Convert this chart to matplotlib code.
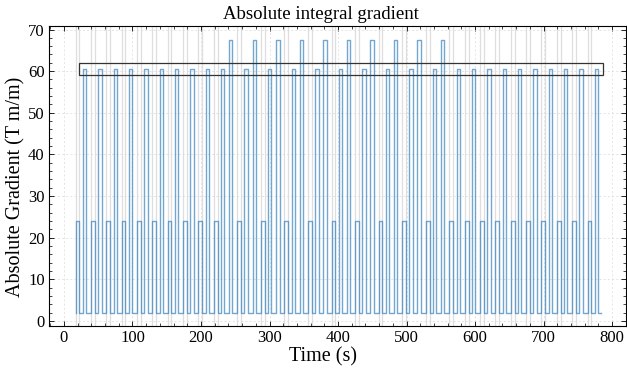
import matplotlib
matplotlib.use("Agg")
import matplotlib.pyplot as plt
from matplotlib.ticker import MultipleLocator
from matplotlib.patches import Rectangle

# ---- data ----
baseline = 2.0
low_level = 24.0
high_level = 60.5
peak_level = 67.4

# onset times (s) of the 24 T m/m pulses
low_on = [17.0, 39.4, 61.8, 84.2, 106.6, 129.0, 151.4, 173.8, 196.2,
          218.6, 253.0, 287.4, 321.8, 356.2, 390.6, 425.0, 459.4, 493.8, 528.2,
          562.6, 585.0, 607.4, 629.8, 652.2, 674.6, 697.0, 719.4, 741.8, 764.2]
low_dur = 5.5
# onset times (s) of the ~60 T m/m pulses
high_on = [27.5, 49.9, 72.3, 94.7, 117.1, 139.5, 161.9, 184.3, 206.7,
           229.1, 263.5, 297.9, 332.3, 366.7, 401.1, 435.5, 469.9, 504.3, 538.7,
           573.1, 595.5, 617.9, 640.3, 662.7, 685.1, 707.5, 729.9, 752.3, 774.7]
high_dur = 5.0
# onset times (s) of the ~67 T m/m pulses
peak_on = [240.8, 275.2, 309.6, 344.0, 378.4, 412.8, 447.2, 481.6, 516.0, 550.4]
peak_dur = 5.0
t_end = 784.0

# highlight box (x0, x1, y0, y1)
box = (22.0, 787.0, 59.1, 62.0)

# ---- build step waveform ----
pulses = ([(s, s + low_dur, low_level) for s in low_on] +
          [(s, s + high_dur, high_level) for s in high_on] +
          [(s, s + peak_dur, peak_level) for s in peak_on])
pulses.sort()
t, g = [], []
for s, e, lev in pulses:
    t += [s, s, e, e]
    g += [baseline, lev, lev, baseline]
t.append(t_end)
g.append(baseline)

plt.rcParams['font.family'] = ['Liberation Serif', 'DejaVu Serif']
plt.rcParams['mathtext.fontset'] = 'stix'

fig = plt.figure(figsize=(6.27, 3.69), dpi=100)
ax = fig.add_axes([0.078, 0.117, 0.92, 0.812])

for s in low_on:
    ax.axvline(s, color='0.87', lw=0.9, zorder=0)
    ax.axvline(s + low_dur, color='0.87', lw=0.9, zorder=0)

ax.plot(t, g, color='#2878b8', lw=1.0, alpha=0.65, zorder=2)

ax.add_patch(Rectangle((box[0], box[2]), box[1] - box[0], box[3] - box[2],
                       fill=False, edgecolor='#333333', lw=0.9, zorder=3))

ax.set_xlim(-22, 820)
ax.set_ylim(-1.2, 70.8)
ax.xaxis.set_major_locator(MultipleLocator(100))
ax.xaxis.set_minor_locator(MultipleLocator(20))
ax.yaxis.set_major_locator(MultipleLocator(10))
ax.yaxis.set_minor_locator(MultipleLocator(2))
ax.tick_params(which='both', direction='in', top=True, right=True, labelsize=12)
ax.tick_params(which='major', length=3.5, width=0.6, pad=3)
ax.tick_params(which='minor', length=2, width=0.5)
ax.grid(True, which='major', color='0.86', linestyle=(0, (3, 3)), lw=0.5)
for sp in ax.spines.values():
    sp.set_linewidth(0.8)

ax.set_title('Absolute integral gradient', fontsize=13.5, pad=5, x=0.472)
ax.set_xlabel('Time (s)', fontsize=14.5, labelpad=1)
ax.set_ylabel('Absolute Gradient (T m/m)', fontsize=14.5, labelpad=2)
ax.xaxis.label.set_x(0.475)
ax.yaxis.label.set_y(0.463)

fig.savefig('out.png', dpi=100)
